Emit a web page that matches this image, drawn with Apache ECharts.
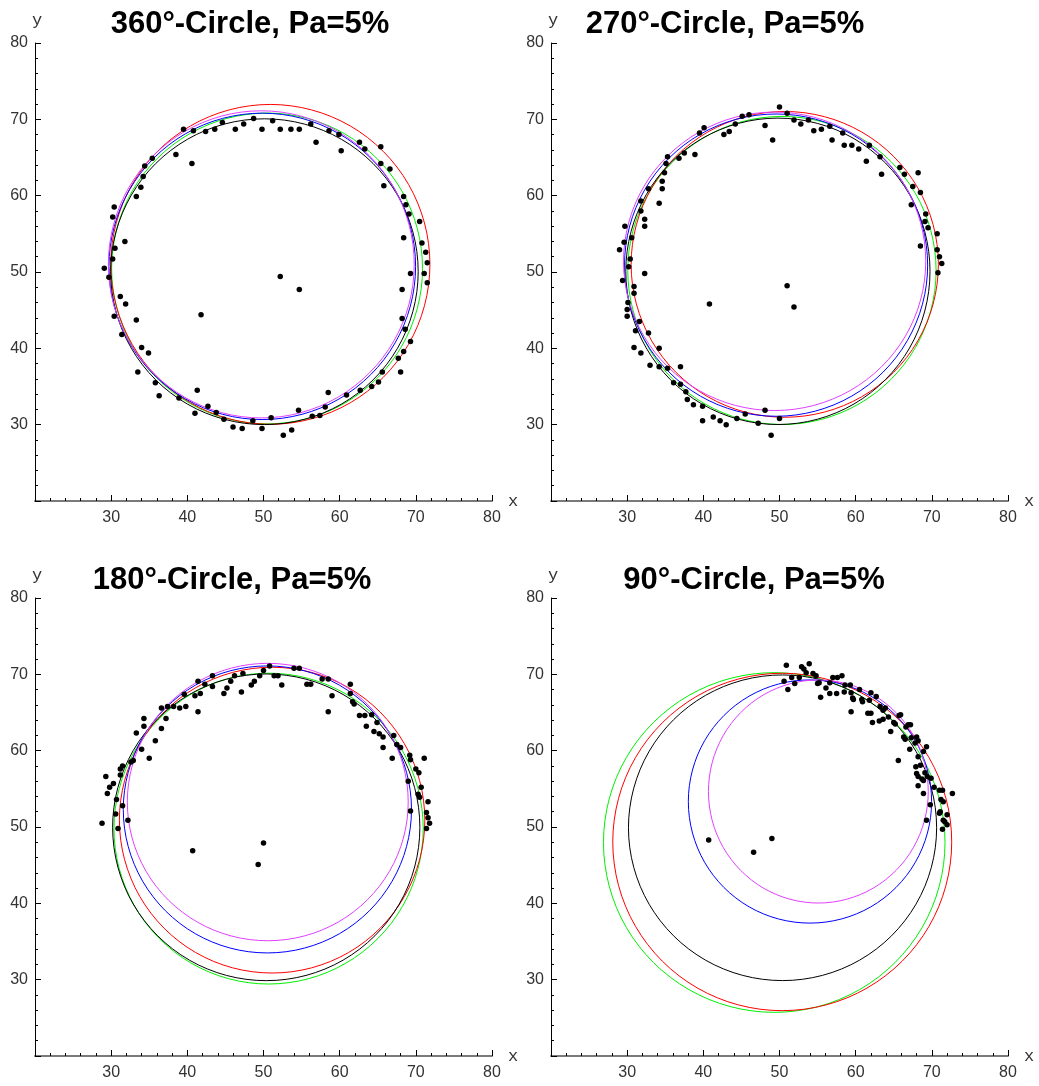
<!DOCTYPE html>
<html><head><meta charset="utf-8">
<script src="https://cdn.jsdelivr.net/npm/echarts@6/dist/echarts.min.js"></script>
<style>html,body{margin:0;padding:0;background:#fff}#c{width:1039px;height:1086px}</style>
</head><body><div id="c"></div>
<script>
// ---------- titles / ticks ----------
const panelTitles = ['360°-Circle, Pa=5%', '270°-Circle, Pa=5%', '180°-Circle, Pa=5%', '90°-Circle, Pa=5%'];
const axisMin = 20, axisMax = 80, axisStep = 10;

// ---------- measured points ----------
const pts360 = [[39.5,68.7],[40.8,68.5],[42.4,68.4],[43.6,68.7],[44.6,69.6],[46.3,68.7],[47.4,69.4],[48.7,70.1],[49.8,68.7],[51.2,69.8],[52.2,68.7],[53.6,68.7],[54.7,68.7],[56.2,69.4],[56.9,67.0],[58.6,68.5],[59.9,68.0],[60.2,65.9],[62.6,67.0],[63.3,66.1],[65.4,66.4],[65.4,64.2],[66.6,63.5],[65.8,61.3],[68.4,59.9],[68.7,58.8],[69.1,57.6],[70.5,56.6],[68.4,54.5],[70.8,53.8],[71.3,52.6],[71.5,51.2],[69.3,49.8],[71.1,49.8],[71.5,48.6],[68.2,47.7],[68.2,43.9],[68.6,42.5],[69.3,40.9],[68.4,39.6],[67.7,38.7],[68.0,36.9],[65.6,36.9],[65.1,35.6],[64.2,35.0],[62.7,34.5],[60.9,33.9],[58.5,34.2],[58.1,32.3],[57.4,31.2],[56.4,31.1],[54.6,31.9],[53.7,29.3],[52.6,28.6],[51.0,30.9],[49.8,29.5],[48.6,30.5],[47.2,29.5],[46.0,29.7],[44.8,30.7],[43.8,31.6],[42.7,32.4],[41.0,31.5],[41.3,34.5],[38.9,33.5],[36.3,33.8],[35.8,35.5],[33.5,36.9],[34.9,39.4],[34.0,40.1],[33.3,43.7],[31.4,41.8],[30.4,44.2],[31.9,45.8],[31.2,46.8],[29.1,50.5],[29.7,49.3],[30.2,51.7],[30.5,53.1],[31.8,54.0],[30.2,57.2],[30.4,58.5],[33.3,59.9],[33.9,61.1],[34.2,62.5],[34.4,63.9],[35.4,64.9],[38.5,65.4],[40.6,64.2],[41.8,44.4],[52.2,49.4],[54.7,47.7]];

const pts270 = [[50.0,71.6],[51.0,70.8],[46.0,70.6],[45.1,70.4],[40.1,68.9],[39.5,68.2],[42.7,68.0],[43.4,68.4],[44.2,69.4],[48.1,69.2],[49.1,67.3],[51.9,69.9],[52.8,69.4],[53.8,69.9],[54.5,68.5],[55.5,68.7],[56.6,69.1],[56.9,67.3],[58.3,68.2],[58.5,66.6],[59.5,66.6],[60.4,66.1],[61.4,64.5],[61.8,66.6],[63.4,62.8],[63.2,65.1],[65.8,63.7],[66.4,62.8],[68.2,63.0],[67.5,61.2],[68.5,60.4],[67.3,58.8],[69.2,57.6],[69.1,56.6],[69.5,55.8],[70.7,55.0],[68.5,53.4],[70.7,52.9],[71.0,52.0],[71.3,51.1],[70.8,49.9],[38.9,65.4],[37.5,65.6],[36.8,64.9],[35.3,65.1],[35.1,64.2],[34.9,63.0],[34.6,61.9],[34.6,60.9],[34.2,59.0],[32.8,60.9],[31.8,59.3],[31.8,58.0],[32.3,56.9],[32.3,56.0],[30.6,54.5],[29.7,56.0],[29.6,53.9],[29.0,52.9],[30.4,51.7],[30.2,50.7],[29.4,48.9],[32.3,49.8],[30.9,48.1],[30.9,47.2],[30.1,46.0],[30.0,45.1],[30.0,44.2],[31.6,43.5],[31.1,42.3],[32.8,42.0],[30.9,40.1],[31.8,39.4],[34.2,40.0],[33.0,37.8],[34.2,37.6],[35.3,37.4],[37.0,37.6],[36.1,35.5],[37.0,35.3],[37.7,34.3],[37.9,33.3],[38.7,32.6],[39.9,32.4],[39.9,30.5],[41.3,31.0],[42.2,30.5],[43.0,30.0],[44.4,30.8],[45.5,31.4],[47.2,30.2],[48.1,31.9],[50.0,30.8],[48.9,28.6],[40.8,45.8],[51.0,48.2],[51.9,45.4]];

const pts180 = [[50.8,71.1],[51.4,69.8],[51.9,69.8],[50.0,70.5],[49.5,69.8],[48.8,69.1],[48.4,68.6],[52.4,68.6],[54.0,70.8],[54.7,70.8],[55.7,68.7],[56.2,68.7],[57.7,69.4],[58.5,69.4],[59.0,67.2],[58.5,65.1],[61.4,68.7],[61.4,67.5],[61.7,66.4],[61.9,66.1],[62.6,64.6],[63.3,64.6],[64.2,64.7],[63.5,63.2],[64.9,63.7],[64.5,62.5],[65.2,62.2],[65.7,61.8],[65.7,60.4],[67.1,62.0],[67.5,60.8],[68.0,60.4],[66.9,59.0],[69.2,59.4],[69.3,58.8],[70.0,57.6],[70.4,57.1],[71.1,59.0],[70.7,55.2],[70.3,54.3],[70.5,53.9],[69.0,56.0],[69.3,52.1],[71.6,53.3],[71.4,51.9],[71.6,51.2],[71.8,50.5],[71.4,49.8],[47.3,70.1],[46.2,69.8],[45.7,69.1],[45.2,68.2],[44.8,67.5],[47.1,67.7],[43.3,69.8],[43.3,68.4],[42.3,68.7],[41.4,69.1],[41.7,67.5],[41.0,67.2],[41.4,65.1],[39.8,65.8],[39.0,65.6],[38.2,65.8],[37.4,65.8],[36.6,65.6],[37.2,64.2],[36.6,62.9],[35.8,61.3],[35.0,59.0],[34.3,64.2],[34.3,63.2],[33.3,62.3],[34.0,60.2],[32.9,58.7],[32.6,58.5],[31.5,58.0],[31.2,57.6],[31.2,56.8],[30.3,55.7],[29.8,55.2],[29.5,54.4],[29.3,56.6],[30.7,53.6],[31.5,52.8],[30.6,51.7],[30.9,49.8],[32.2,50.9],[28.8,50.5],[39.6,67.4],[40.7,46.9],[50.0,47.9],[49.3,45.1]];

const pts90 = [[50.9,71.2],[52.9,71.0],[53.2,70.7],[53.9,71.4],[53.5,70.2],[54.4,70.1],[54.8,69.8],[51.6,69.6],[52.6,69.6],[50.6,69.1],[52.0,68.8],[51.1,68.0],[55.2,68.9],[55.0,68.8],[55.4,67.0],[56.1,68.2],[56.6,67.5],[56.6,68.9],[57.0,69.6],[57.6,69.6],[58.2,69.8],[57.5,67.5],[58.5,67.7],[58.6,68.6],[59.3,68.6],[59.4,67.6],[59.6,66.9],[59.7,66.7],[59.4,65.1],[60.5,68.0],[60.8,66.7],[60.9,66.4],[61.8,66.6],[61.6,64.9],[62.0,64.9],[62.0,67.6],[62.7,67.1],[62.2,63.7],[63.1,63.9],[63.6,64.1],[63.2,65.8],[63.6,65.3],[63.9,65.6],[64.3,64.4],[64.6,62.5],[65.0,63.7],[65.2,63.5],[65.7,64.6],[65.9,64.7],[66.3,61.8],[66.5,61.5],[66.6,63.1],[66.9,63.4],[67.2,63.4],[67.1,60.2],[67.3,61.7],[68.0,61.8],[68.2,61.3],[67.8,61.0],[68.2,59.2],[69.3,60.5],[68.9,59.9],[68.5,58.1],[67.9,57.9],[68.0,57.0],[68.2,56.6],[68.7,56.3],[68.9,56.1],[68.2,55.4],[68.9,54.4],[69.1,57.1],[69.4,56.6],[69.9,56.4],[70.3,55.2],[71.0,54.8],[71.4,54.8],[71.2,53.6],[71.5,53.3],[69.8,52.9],[71.1,52.0],[71.0,51.8],[72.0,51.6],[71.7,50.7],[71.5,50.9],[71.4,49.7],[72.0,50.3],[69.3,50.9],[72.7,54.4],[65.6,58.7],[40.7,48.3],[49.0,48.5],[46.6,46.7]];

// ---------- fitted curves (vertices, every 30 degrees, closed loops) ----------
const c360Black = [[70.31,50.04],[67.60,60.06],[60.22,67.39],[50.12,70.07],[40.02,67.39],[32.64,60.06],[29.93,50.04],[32.64,40.02],[40.02,32.69],[50.12,30.01],[60.22,32.69],[67.60,40.02]];
const c360Red = [[71.85,51.0],[69.04,61.48],[61.38,69.14],[50.9,71.95],[40.42,69.14],[32.76,61.48],[29.95,51.0],[32.76,40.52],[40.42,32.86],[50.9,30.05],[61.38,32.86],[69.04,40.52]];
const c360Green = [[70.88,50.46],[68.15,60.64],[60.68,68.09],[50.47,70.82],[40.26,68.09],[32.79,60.64],[30.06,50.46],[32.79,40.28],[40.26,32.83],[50.47,30.10],[60.68,32.83],[68.15,40.28]];
const c360Blue = [[69.97,50.74],[67.27,60.78],[59.91,68.12],[49.84,70.81],[39.77,68.12],[32.41,60.78],[29.71,50.74],[32.41,40.70],[39.77,33.36],[49.84,30.67],[59.91,33.36],[67.27,40.70]];
const c360Magenta = [[69.79,51.0],[67.10,61.06],[59.75,68.42],[49.71,71.12],[39.67,68.42],[32.32,61.06],[29.63,51.0],[32.32,40.94],[39.67,33.58],[49.71,30.88],[59.75,33.58],[67.10,40.94]];

const c270Black = [[69.76,50.09],[67.08,60.13],[59.78,67.47],[49.79,70.16],[39.80,67.47],[32.50,60.13],[29.82,50.09],[32.50,40.05],[39.80,32.71],[49.79,30.02],[59.78,32.71],[67.08,40.05]];
const c270Red = [[70.86,51.0],[68.16,61.02],[60.78,68.35],[50.69,71.03],[40.60,68.35],[33.22,61.02],[30.52,51.0],[33.22,40.98],[40.60,33.65],[50.69,30.97],[60.78,33.65],[68.16,40.98]];
const c270Green = [[70.56,50.2],[67.85,60.29],[60.44,67.68],[50.32,70.38],[40.20,67.68],[32.79,60.29],[30.08,50.2],[32.79,40.11],[40.20,32.72],[50.32,30.02],[60.44,32.72],[67.85,40.11]];
const c270Blue = [[69.45,50.9],[66.78,60.8],[59.50,68.05],[49.55,70.7],[39.60,68.05],[32.32,60.8],[29.65,50.9],[32.32,41.0],[39.60,33.75],[49.55,31.1],[59.50,33.75],[66.78,41.0]];
const c270Magenta = [[69.20,51.4],[66.54,61.18],[59.28,68.33],[49.36,70.95],[39.44,68.33],[32.18,61.18],[29.52,51.4],[32.18,41.62],[39.44,34.47],[49.36,31.85],[59.28,34.47],[66.54,41.62]];

const c180Black = [[70.53,49.96],[67.83,60.01],[60.45,67.36],[50.36,70.05],[40.27,67.36],[32.89,60.01],[30.19,49.96],[32.89,39.91],[40.27,32.56],[50.36,29.87],[60.45,32.56],[67.83,39.91]];
const c180Red = [[71.18,50.9],[68.49,60.92],[61.16,68.25],[51.13,70.93],[41.10,68.25],[33.77,60.92],[31.08,50.9],[33.77,40.88],[41.10,33.55],[51.13,30.87],[61.16,33.55],[68.49,40.88]];
const c180Green = [[70.97,49.79],[68.25,59.97],[60.82,67.42],[50.67,70.15],[40.52,67.42],[33.09,59.97],[30.37,49.79],[33.09,39.61],[40.52,32.16],[50.67,29.43],[60.82,32.16],[68.25,39.61]];
const c180Blue = [[69.43,52.3],[66.89,61.7],[59.97,68.58],[50.51,71.1],[41.05,68.58],[34.13,61.7],[31.59,52.3],[34.13,42.9],[41.05,36.02],[50.51,33.5],[59.97,36.02],[66.89,42.9]];
const c180Magenta = [[69.0,53.27],[66.53,62.36],[59.78,69.01],[50.56,71.44],[41.34,69.01],[34.59,62.36],[32.12,53.27],[34.59,44.18],[41.34,37.53],[50.56,35.1],[59.78,37.53],[66.53,44.18]];

const c90Black = [[70.63,49.9],[67.92,59.91],[60.52,67.24],[50.4,69.92],[40.28,67.24],[32.88,59.91],[30.17,49.9],[32.88,39.89],[40.28,32.56],[50.4,29.88],[60.52,32.56],[67.92,39.89]];
const c90Red = [[72.61,48.04],[69.63,59.09],[61.49,67.18],[50.36,70.14],[39.23,67.18],[31.09,59.09],[28.11,48.04],[31.09,36.99],[39.23,28.90],[50.36,25.94],[61.49,28.90],[69.63,36.99]];
const c90Green = [[71.73,47.97],[68.73,59.10],[60.52,67.24],[49.31,70.22],[38.10,67.24],[29.89,59.10],[26.89,47.97],[29.89,36.84],[38.10,28.70],[49.31,25.72],[60.52,28.70],[68.73,36.84]];
const c90Blue = [[69.97,53.34],[67.83,61.31],[61.99,67.14],[54.0,69.27],[46.01,67.14],[40.17,61.31],[38.03,53.34],[40.17,45.37],[46.01,39.54],[54.0,37.41],[61.99,39.54],[67.83,45.37]];
const c90Magenta = [[69.53,54.65],[67.60,61.96],[62.32,67.30],[55.1,69.26],[47.88,67.30],[42.60,61.96],[40.67,54.65],[42.60,47.34],[47.88,42.0],[55.1,40.04],[62.32,42.0],[67.60,47.34]];

const panelPoints = [pts360, pts270, pts180, pts90];
const panelCurves = [
  {green:c360Green, red:c360Red, black:c360Black, blue:c360Blue, magenta:c360Magenta},
  {green:c270Green, red:c270Red, black:c270Black, blue:c270Blue, magenta:c270Magenta},
  {green:c180Green, red:c180Red, black:c180Black, blue:c180Blue, magenta:c180Magenta},
  {green:c90Green, red:c90Red, black:c90Black, blue:c90Blue, magenta:c90Magenta}
];

// ---------- layout / style ----------
const gridBoxes = [
  {left:35, top:43, width:457, height:458},
  {left:551, top:43, width:457, height:458},
  {left:35, top:598, width:457, height:458},
  {left:551, top:598, width:457, height:458}
];
const titlePos = [{x:245, y:4}, {x:720, y:4}, {x:227, y:560}, {x:749, y:560}];
const curveColors = {green:'#00f000', red:'#ff0000', black:'#000000', blue:'#0000ff', magenta:'#e040ff'};

const chart = echarts.init(document.getElementById('c'), null, {renderer:'canvas'});
const option = {
  animation:false,
  backgroundColor:'#fff',
  title: panelTitles.map((t,i)=>({
    text:t, left:titlePos[i].x, top:titlePos[i].y, textAlign:'center',
    textStyle:{fontFamily:'Liberation Sans, Arial', fontWeight:'bold', fontSize:31, color:'#000'}
  })),
  grid: gridBoxes.map(g=>Object.assign({containLabel:false}, g)),
  xAxis: gridBoxes.map((g,i)=>({
    type:'value', gridIndex:i, min:axisMin, max:axisMax, interval:axisStep,
    name:'x', nameLocation:'end', nameGap:16,
    nameTextStyle:{fontFamily:'Liberation Mono, Courier New, monospace', fontSize:17, color:'#333', verticalAlign:'middle'},
    axisLine:{onZero:false, lineStyle:{color:'#7a7a7a', width:2}},
    axisTick:{inside:true, length:6, lineStyle:{color:'#000', width:1}},
    minorTick:{show:true, splitNumber:5, length:3, lineStyle:{color:'#000', width:1}},
    axisLabel:{showMinLabel:false, color:'#333', fontSize:16, fontFamily:'Liberation Sans, Arial', margin:9},
    splitLine:{show:false}, minorSplitLine:{show:false}
  })),
  yAxis: gridBoxes.map((g,i)=>({
    type:'value', gridIndex:i, min:axisMin, max:axisMax, interval:axisStep,
    name:'y', nameLocation:'end', nameGap:14,
    nameTextStyle:{fontFamily:'Liberation Mono, Courier New, monospace', fontSize:17, color:'#333', padding:[0,0,0,4]},
    axisLine:{onZero:false, lineStyle:{color:'#000', width:1}},
    axisTick:{inside:true, length:6, lineStyle:{color:'#000', width:1}},
    minorTick:{show:true, splitNumber:5, length:3, lineStyle:{color:'#000', width:1}},
    axisLabel:{showMinLabel:false, color:'#333', fontSize:16, fontFamily:'Liberation Sans, Arial', margin:7},
    splitLine:{show:false}, minorSplitLine:{show:false}
  })),
  series: []
};

// Closed fitted curve drawn as a smooth polygon through the library's own axis scales
function curveSeries(i, pts, color) {
  return {
    type:'custom', coordinateSystem:'cartesian2d', xAxisIndex:i, yAxisIndex:i,
    data: pts, encode:{x:0, y:1}, silent:true, z:2,
    renderItem: function (params, api) {
      if (params.dataIndex !== 0) return null;
      const poly = pts.map(p => api.coord(p));
      return {
        type:'polygon',
        shape:{points:poly, smooth:0.35},
        style:{fill:'none', stroke:color, lineWidth:1}
      };
    }
  };
}

panelCurves.forEach((curves,i)=>{
  ['green','red','black','blue','magenta'].forEach(k=>{
    option.series.push(curveSeries(i, curves[k], curveColors[k]));
  });
  option.series.push({
    type:'scatter', xAxisIndex:i, yAxisIndex:i,
    data: panelPoints[i], symbolSize:5.5,
    itemStyle:{color:'#000', opacity:1}, silent:true, z:5
  });
});

chart.setOption(option);
</script>
</body></html>
